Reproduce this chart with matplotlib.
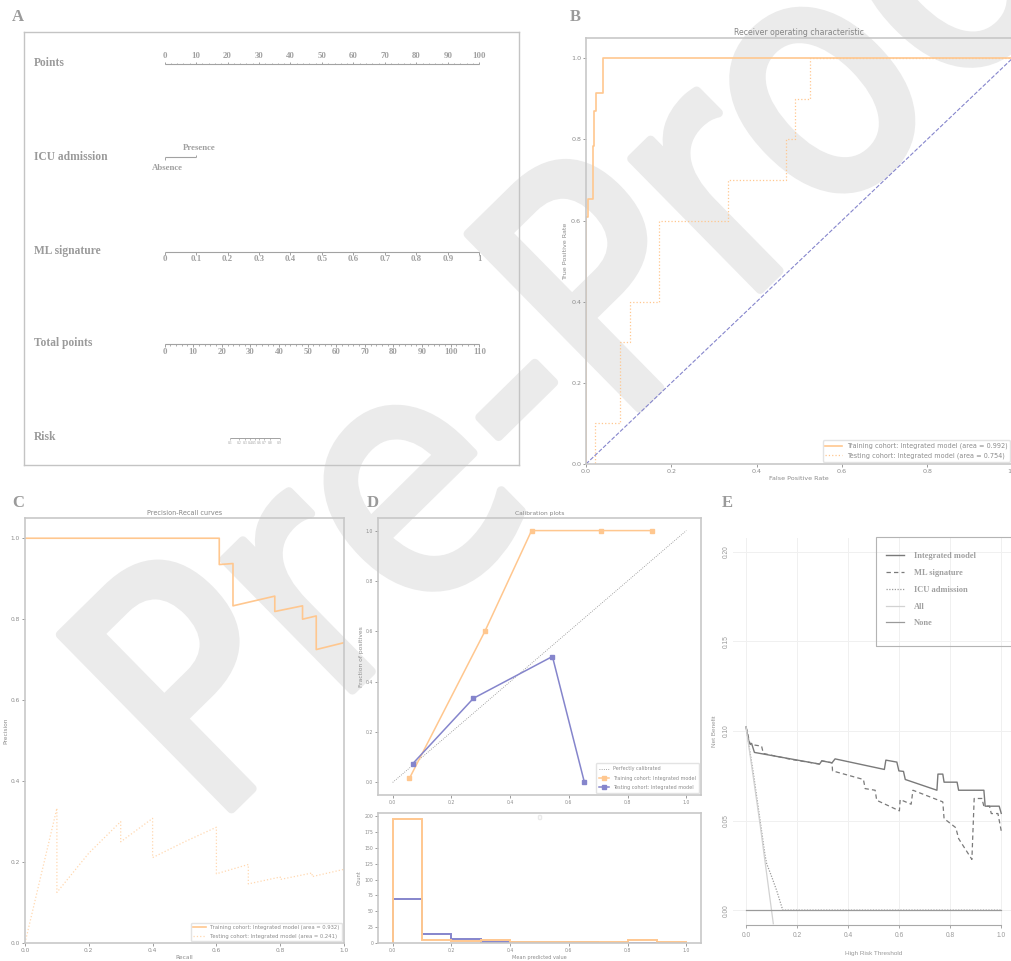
import matplotlib
matplotlib.use("Agg")
import matplotlib.pyplot as plt
import numpy as np
from matplotlib.patches import Rectangle, PathPatch
from matplotlib.textpath import TextPath
from matplotlib.font_manager import FontProperties
from matplotlib.transforms import Affine2D

W, H = 1011, 961

# ---------------- Daten ----------------
# Nomogramm (A)
points_ticks = np.arange(0, 101, 10)
ml_ticks = [0, 0.1, 0.2, 0.3, 0.4, 0.5, 0.6, 0.7, 0.8, 0.9, 1.0]
ml_tick_labels = ["0", "0.1", "0.2", "0.3", "0.4", "0.5", "0.6", "0.7", "0.8", "0.9", "1"]
total_ticks = np.arange(0, 111, 10)
icu_levels = ["Absence", "Presence"]
icu_points = [0, 10]
risk_ticks = [0.1, 0.2, 0.3, 0.4, 0.5, 0.6, 0.7, 0.8, 0.9]
risk_intercept = -7.954   # logit(risk) = intercept + slope * total points
risk_slope = 0.2525

# ROC (B)
roc_train_fpr = [0, 0, 0.005, 0.005, 0.016, 0.016, 0.019, 0.019, 0.023, 0.023, 0.039, 0.039, 1.0]
roc_train_tpr = [0, 0.61, 0.61, 0.653, 0.653, 0.784, 0.784, 0.87, 0.87, 0.914, 0.914, 1.0, 1.0]
roc_test_fpr = [0, 0.022, 0.022, 0.079, 0.079, 0.102, 0.102, 0.171, 0.171, 0.333, 0.333,
                0.468, 0.468, 0.49, 0.49, 0.526, 0.526, 1.0]
roc_test_tpr = [0, 0, 0.1, 0.1, 0.3, 0.3, 0.4, 0.4, 0.6, 0.6, 0.7, 0.7, 0.8, 0.8, 0.9, 0.9, 1.0, 1.0]
auc_train = 0.992
auc_test = 0.754

# Precision-Recall (C)
pr_train_recall = [0, 0.609, 0.609, 0.652, 0.652, 0.783, 0.783, 0.870, 0.870, 0.913, 0.913, 1.0]
pr_train_precision = [1.0, 1.0, 0.935, 0.9375, 0.833, 0.857, 0.819, 0.833, 0.800, 0.808, 0.725, 0.742]
pr_test_recall = [0, 0.1, 0.1, 0.2, 0.3, 0.3, 0.4, 0.4, 0.5, 0.6, 0.6, 0.7, 0.7, 0.8, 0.8, 0.9, 0.9, 1.0]
pr_test_precision = [0, 0.333, 0.125, 0.222, 0.300, 0.250, 0.308, 0.211, 0.250, 0.286, 0.171,
                     0.194, 0.146, 0.163, 0.157, 0.173, 0.164, 0.182]
ap_train = 0.932
ap_test = 0.241

# Kalibrierung (D)
cal_train_pred = [0.057, 0.314, 0.473, 0.709, 0.883]
cal_train_frac = [0.016, 0.60, 1.0, 1.0, 1.0]
cal_test_pred = [0.068, 0.275, 0.544, 0.653]
cal_test_frac = [0.074, 0.334, 0.50, 0.0]
hist_edges = np.linspace(0, 1, 11)
hist_train_counts = [195, 5, 3, 5, 2, 1, 1, 2, 5, 1]
hist_test_counts = [70, 14, 7, 2, 1, 2, 1, 0, 0, 0]

# Entscheidungskurven (E)
dca_int_th = [0, 0.013, 0.022, 0.033, 0.288, 0.297, 0.337, 0.349, 0.542, 0.548, 0.591, 0.599,
              0.617, 0.624, 0.748, 0.752, 0.771, 0.776, 0.827, 0.833, 0.932, 0.937, 0.992, 1.0]
dca_int_nb = [0.1023, 0.093, 0.093, 0.088, 0.0815, 0.0833, 0.0822, 0.0844, 0.0785, 0.0837, 0.0826, 0.0777,
              0.0774, 0.0729, 0.0669, 0.0759, 0.0759, 0.0714, 0.0714, 0.0669, 0.0669, 0.058, 0.058, 0.054]
dca_ml_th = [0, 0.016, 0.061, 0.068, 0.173, 0.288, 0.297, 0.337, 0.339, 0.46, 0.467, 0.506, 0.512,
             0.601, 0.604, 0.647, 0.654, 0.771, 0.776, 0.822, 0.833, 0.885, 0.894, 0.924, 0.932,
             0.954, 0.961, 0.987, 1.0]
dca_ml_nb = [0.1023, 0.0925, 0.0915, 0.0874, 0.0842, 0.0815, 0.0833, 0.0822, 0.0777, 0.0729, 0.0678,
             0.0669, 0.0613, 0.0554, 0.0617, 0.0591, 0.0669, 0.0604, 0.0511, 0.046, 0.0399, 0.0283,
             0.0623, 0.0623, 0.058, 0.058, 0.0539, 0.0539, 0.0442]
dca_icu_th = [0, 0.029, 0.0745, 0.081, 0.101, 0.120, 0.144, 1.0]
dca_icu_nb = [0.1023, 0.0762, 0.0306, 0.0259, 0.0185, 0.011, 0.0, 0.0]
dca_all_th = [0, 0.055, 0.107]
dca_all_nb = [0.1023, 0.048, -0.0076]
dca_none_th = [0, 1.0]
dca_none_nb = [0, 0]

# ---------------- Farben ----------------
orange = "#ffc78f"
orange_light = "#ffd8b0"
purple = "#8585cc"
txt = "#8c8c8c"
spine_c = "#c8c8c8"
serif = "Liberation Serif"
narrow = ["Liberation Sans Narrow", "Liberation Sans", "DejaVu Sans"]

fig = plt.figure(figsize=(W / 100, H / 100), dpi=100)
fig.patch.set_facecolor("white")


def px_axes(left, top, right, bottom):
    # Achsen in Pixelkoordinaten der Abbildung anlegen
    ax = fig.add_axes([left / W, 1 - bottom / H, (right - left) / W, (bottom - top) / H])
    ax.set_facecolor("none")
    return ax


def mpl_style(ax, fs):
    for s in ax.spines.values():
        s.set_color(spine_c)
        s.set_linewidth(1.2)
    ax.tick_params(labelsize=fs, colors=txt, length=2, width=0.6, pad=1.5)


# Wasserzeichen (schmal gestauchter Schriftzug, schraeg, hinter allen Achsen)
wm_path = TextPath((0, 0), "Pre-Proof", size=335, prop=FontProperties(family="DejaVu Sans"))
wm_tf = (Affine2D().scale(0.875, 1.0).rotate_deg(44.5).translate(211, H - 829)
         .scale(1 / W, 1 / H) + fig.transFigure)
fig.add_artist(PathPatch(wm_path, transform=wm_tf, facecolor="#ebebeb", edgecolor="#ebebeb",
                         lw=6.5, joinstyle="round", zorder=-10))

# Panel-Buchstaben
for letter, (lx, ly) in {"A": (18, 17), "B": (575, 17), "C": (18, 503), "D": (373, 503), "E": (727, 503)}.items():
    fig.text(lx / W, 1 - ly / H, letter, ha="center", va="center", fontsize=12,
             family=serif, weight="bold", color="#9a9a9a")

# ---------------- A: Nomogramm ----------------
ax_a = px_axes(24, 32.3, 519, 465)
ax_a.set_xlim(-44.66, 112.6)
ax_a.set_ylim(465, 32.3)
ax_a.set_xticks([])
ax_a.set_yticks([])
for s in ax_a.spines.values():
    s.set_color("#c4c4c4")
    s.set_linewidth(1.0)

nc = "#a2a2a2"
lab_kw = dict(family=serif, weight="bold", color="#9a9a9a", fontsize=8.3, ha="left", va="center")
tick_kw = dict(family=serif, weight="bold", color="#a0a0a0", fontsize=6.3, ha="center", va="center")
row_x = -41.5

# Points
ax_a.text(row_x, 63.3, "Points", **lab_kw)
ax_a.hlines(64.3, points_ticks[0], points_ticks[-1], color=nc, lw=0.8)
ax_a.vlines(np.arange(0, 101, 2), 64.3, 62.8, color=nc, lw=0.6)
ax_a.vlines(points_ticks, 64.3, 61.5, color=nc, lw=0.7)
for v in points_ticks:
    ax_a.text(v, 56.3, str(v), **tick_kw)

# ICU admission
ax_a.text(row_x, 157.3, "ICU admission", **lab_kw)
ax_a.hlines(157.3, icu_points[0], icu_points[1], color=nc, lw=0.8)
ax_a.vlines(icu_points[0], 157.3, 160, color=nc, lw=0.7)
ax_a.vlines(icu_points[1], 157.3, 154.6, color=nc, lw=0.7)
ax_a.text(icu_points[0] + 0.8, 168, icu_levels[0], **tick_kw)
ax_a.text(icu_points[1] + 0.9, 148, icu_levels[1], **tick_kw)

# ML signature (0..1 -> 0..100 Punkte)
ml_pts = np.array(ml_ticks) * 100
ax_a.text(row_x, 250.7, "ML signature", **lab_kw)
ax_a.hlines(251.7, ml_pts[0], ml_pts[-1], color=nc, lw=0.8)
ax_a.vlines(ml_pts, 251.7, 254.5, color=nc, lw=0.7)
for v, l in zip(ml_pts, ml_tick_labels):
    ax_a.text(v, 259.3, l, **tick_kw)

# Total points (0..110 auf die Punkte-Skala gestreckt)
tp_scale = 100 / 110
ax_a.text(row_x, 343.3, "Total points", **lab_kw)
ax_a.hlines(344.3, 0, total_ticks[-1] * tp_scale, color=nc, lw=0.8)
ax_a.vlines(np.arange(0, 111, 2) * tp_scale, 344.3, 345.8, color=nc, lw=0.6)
ax_a.vlines(total_ticks * tp_scale, 344.3, 347, color=nc, lw=0.7)
for v in total_ticks:
    ax_a.text(v * tp_scale, 351.7, str(v), **tick_kw)

# Risk
risk_logit = np.log(np.array(risk_ticks) / (1 - np.array(risk_ticks)))
risk_x = (risk_logit - risk_intercept) / risk_slope * tp_scale
ax_a.text(row_x, 437.3, "Risk", **lab_kw)
ax_a.hlines(437.7, risk_x[0], risk_x[-1], color=nc, lw=0.7)
ax_a.vlines(risk_x, 437.7, 440, color=nc, lw=0.5)
for v, p in zip(risk_x, risk_ticks):
    ax_a.text(v, 443.3, str(p), family=serif, color="#a0a0a0", fontsize=2.8, ha="center", va="center")

# ---------------- B: ROC ----------------
ax_b = px_axes(586, 38, 1012.5, 464)
mpl_style(ax_b, 4.6)
ax_b.plot(roc_train_fpr, roc_train_tpr, color=orange, lw=1.2,
          label="Training cohort: Integrated model (area = %0.3f)" % auc_train)
ax_b.plot(roc_test_fpr, roc_test_tpr, color=orange, lw=0.9, ls=":",
          label="Testing cohort: Integrated model (area = %0.3f)" % auc_test)
ax_b.plot([0, 1], [0, 1], color=purple, lw=0.8, ls="--")
ax_b.set_xlim(0, 1.0)
ax_b.set_ylim(0, 1.05)
ax_b.set_xticks(np.arange(0, 1.01, 0.2))
ax_b.set_yticks(np.arange(0, 1.01, 0.2))
ax_b.set_xlabel("False Positive Rate", fontsize=4.6, color=txt, labelpad=1.5)
ax_b.set_ylabel("True Positive Rate", fontsize=4.6, color=txt, labelpad=2)
ax_b.set_title("Receiver operating characteristic", fontsize=5.6, color="#858585", pad=2.5)
ax_b.legend(loc="lower right", fontsize=4.7, labelcolor=txt, edgecolor="#dcdcdc",
            handlelength=2.5, borderaxespad=0.35)

# ---------------- C: Precision-Recall ----------------
ax_c = px_axes(25, 518, 344, 943)
mpl_style(ax_c, 4.2)
ax_c.plot(pr_train_recall, pr_train_precision, color=orange, lw=1.2,
          label="Training cohort: Integrated model (area = %0.3f)" % ap_train)
ax_c.plot(pr_test_recall, pr_test_precision, color=orange_light, lw=0.9, ls=":",
          label="Testing cohort: Integrated model (area = %0.3f)" % ap_test)
ax_c.set_xlim(0, 1.0)
ax_c.set_ylim(0, 1.05)
ax_c.set_xticks(np.arange(0, 1.01, 0.2))
ax_c.set_yticks(np.arange(0, 1.01, 0.2))
ax_c.set_xlabel("Recall", fontsize=4.2, color=txt, labelpad=1.5)
ax_c.set_ylabel("Precision", fontsize=4.2, color=txt, labelpad=2)
ax_c.set_title("Precision-Recall curves", fontsize=4.7, color="#858585", pad=2.5)
ax_c.legend(loc="lower right", fontsize=3.8, labelcolor=txt, edgecolor="#dcdcdc",
            handlelength=2.5, labelspacing=0.7, borderaxespad=0.4)

# ---------------- D: Kalibrierung ----------------
ax_d1 = px_axes(378, 518, 701, 795)
mpl_style(ax_d1, 3.3)
ax_d1.plot([0, 1], [0, 1], ls=":", color="#8a8a8a", lw=0.6, label="Perfectly calibrated")
ax_d1.plot(cal_train_pred, cal_train_frac, "s-", color=orange, lw=1.1, ms=2.6,
           label="Training cohort: Integrated model")
ax_d1.plot(cal_test_pred, cal_test_frac, "s-", color=purple, lw=1.1, ms=2.6,
           label="Testing cohort: Integrated model")
ax_d1.set_xlim(-0.05, 1.05)
ax_d1.set_ylim(-0.05, 1.05)
ax_d1.set_xticks(np.arange(0, 1.01, 0.2))
ax_d1.set_yticks(np.arange(0, 1.01, 0.2))
ax_d1.set_ylabel("Fraction of positives", fontsize=4.3, color=txt, labelpad=1.5)
ax_d1.set_title("Calibration plots", fontsize=4.3, color="#858585", pad=2.5)
ax_d1.legend(loc="lower right", fontsize=3.5, labelcolor=txt, edgecolor="#dcdcdc",
             labelspacing=0.85, borderpad=0.6, borderaxespad=0.5)

ax_d2 = px_axes(378, 813, 701, 943)
mpl_style(ax_d2, 3.3)
ax_d2.stairs(hist_test_counts, hist_edges, color=purple, lw=1.4)
ax_d2.stairs(hist_train_counts, hist_edges, color=orange, lw=1.4)
ax_d2.set_xlim(-0.05, 1.05)
ax_d2.set_ylim(0, max(hist_train_counts) * 1.05)
ax_d2.set_xticks(np.arange(0, 1.01, 0.2))
ax_d2.set_yticks(np.arange(0, 201, 25))
ax_d2.set_xlabel("Mean predicted value", fontsize=3.6, color=txt, labelpad=1.5)
ax_d2.set_ylabel("Count", fontsize=3.6, color=txt, labelpad=1.5)
ax_d2.legend(handles=[], loc="upper center", ncol=2, fontsize=3.4, edgecolor="#e4e4e4")

# ---------------- E: Decision curves ----------------
ax_e = px_axes(733.25, 537.7, 1014, 925.2)
ax_e.set_xlim(-0.05, 1.05)
ax_e.set_ylim(-0.0084, 0.2078)
for side in ["left", "right", "top"]:
    ax_e.spines[side].set_visible(False)
ax_e.spines["bottom"].set_bounds(0, 1)
ax_e.spines["bottom"].set_color("#a8a8a8")
ax_e.spines["bottom"].set_linewidth(0.8)
ax_e.grid(True, color="#f0f0f0", lw=0.7)
ax_e.set_axisbelow(True)
ax_e.set_xticks(np.arange(0, 1.01, 0.2))
ax_e.set_xticklabels(["%.1f" % v for v in np.arange(0, 1.01, 0.2)], family=narrow)
ax_e.set_yticks(np.arange(0, 0.201, 0.05))
ax_e.set_yticklabels(["%.2f" % v for v in np.arange(0, 0.201, 0.05)], family=narrow,
                     rotation=90, va="center")
ax_e.tick_params(axis="x", labelsize=4.8, colors="#9a9a9a", length=2.2, width=0.6, pad=3)
ax_e.tick_params(axis="y", labelsize=4.8, colors="#9a9a9a", length=0, pad=2.5)

l_int, = ax_e.plot(dca_int_th, dca_int_nb, color="#7a7a7a", lw=1.0, label="Integrated model")
l_ml, = ax_e.plot(dca_ml_th, dca_ml_nb, color="#7a7a7a", lw=0.9, ls=(0, (3.5, 2.5)), label="ML signature")
l_icu, = ax_e.plot(dca_icu_th, dca_icu_nb, color="#9c9c9c", lw=0.9, ls=(0, (1, 1.2)), label="ICU admission")
l_all, = ax_e.plot(dca_all_th, dca_all_nb, color="#d2d2d2", lw=0.9, label="All")
l_none, = ax_e.plot(dca_none_th, dca_none_nb, color="#9a9a9a", lw=0.9, label="None")
ax_e.set_xlabel("High Risk Threshold", fontsize=4.6, family=narrow, color="#9a9a9a", labelpad=8)
ax_e.set_ylabel("Net Benefit", fontsize=4.6, family=narrow, color="#9a9a9a", labelpad=4)

leg_e = ax_e.legend(handles=[l_int, l_ml, l_icu, l_all, l_none], loc="upper left",
                    bbox_to_anchor=(871 / W, 1 - 537.3 / H), bbox_transform=fig.transFigure,
                    frameon=False, prop=dict(family=serif, weight="bold", size=6),
                    labelcolor="#a0a0a0", handlelength=2.2, handletextpad=1.1,
                    labelspacing=1.05, borderpad=1.3)
fig.patches.append(Rectangle((876 / W, 1 - 646 / H), 140 / W, 108.7 / H, transform=fig.transFigure,
                             fill=False, edgecolor="#b4b4b4", lw=0.8))

fig.savefig("out.png", dpi=100)
